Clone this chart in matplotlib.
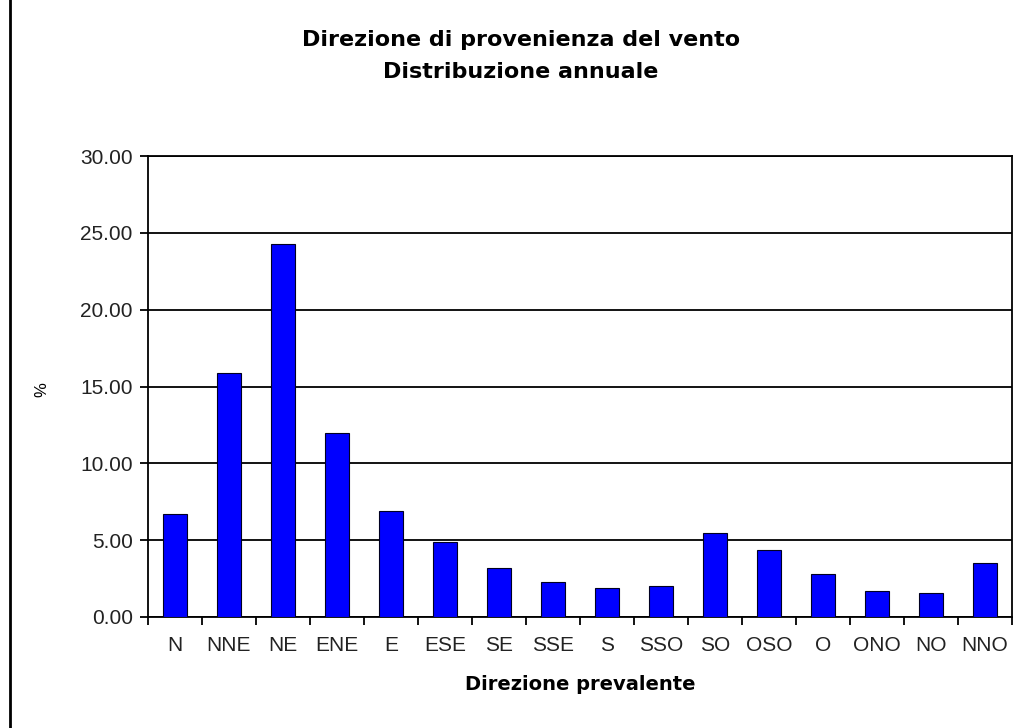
import matplotlib.pyplot as plt
import numpy as np
from matplotlib.lines import Line2D

# wind direction frequency, annual (%)
directions = ["N", "NNE", "NE", "ENE", "E", "ESE", "SE", "SSE",
              "S", "SSO", "SO", "OSO", "O", "ONO", "NO", "NNO"]
percent = [6.7, 15.9, 24.3, 12.0, 6.9, 4.85, 3.2, 2.3,
           1.9, 2.0, 5.45, 4.35, 2.8, 1.7, 1.55, 3.5]
y_ticks = [0, 5, 10, 15, 20, 25, 30]

plt.rcParams["font.family"] = ["Liberation Sans", "DejaVu Sans"]

fig = plt.figure(figsize=(10.16, 7.28), dpi=100)
ax = fig.add_axes([148 / 1016, 1 - 617 / 728, 864 / 1016, (617 - 156) / 728])

x = np.arange(len(directions))
ax.bar(x, percent, width=0.45, color="#0000FF", edgecolor="#000022",
       linewidth=0.8, zorder=3)

ax.set_xlim(-0.5, len(directions) - 0.5)
ax.set_ylim(0, 30)
ax.set_yticks(y_ticks)
ax.set_yticklabels([f"{v:.2f}" for v in y_ticks], fontsize=15, color="#222222")
ax.yaxis.grid(True, color="black", linewidth=1.3, zorder=1)

# ticks on category boundaries, labels at centres
ax.set_xticks(np.arange(-0.5, len(directions), 1.0))
ax.set_xticklabels([])
ax.set_xticks(x, minor=True)
ax.set_xticklabels(directions, minor=True, fontsize=15, color="#222222")
ax.tick_params(axis="x", which="minor", length=0, pad=14)
ax.tick_params(axis="x", which="major", length=6, width=1.3, direction="out")
ax.tick_params(axis="y", length=6, width=1.3, direction="out", pad=5)

for s in ax.spines.values():
    s.set_linewidth(1.3)
    s.set_color("black")

ax.set_xlabel("Direzione prevalente", fontsize=14, fontweight="bold",
              family="DejaVu Sans", labelpad=14)
fig.text(42 / 1016, 1 - 390 / 728, "%", rotation=90, ha="center", va="center",
         fontsize=12)

fig.text(521 / 1016, 1 - 40 / 728, "Direzione di provenienza del vento",
         ha="center", va="center", fontsize=16, fontweight="bold", family="DejaVu Sans")
fig.text(521 / 1016, 1 - 72 / 728, "Distribuzione annuale",
         ha="center", va="center", fontsize=16, fontweight="bold", family="DejaVu Sans")

# outer left border line
fig.add_artist(Line2D([10 / 1016, 10 / 1016], [0, 1], color="black", linewidth=2,
                      transform=fig.transFigure))

fig.savefig("out.png", facecolor="white")
